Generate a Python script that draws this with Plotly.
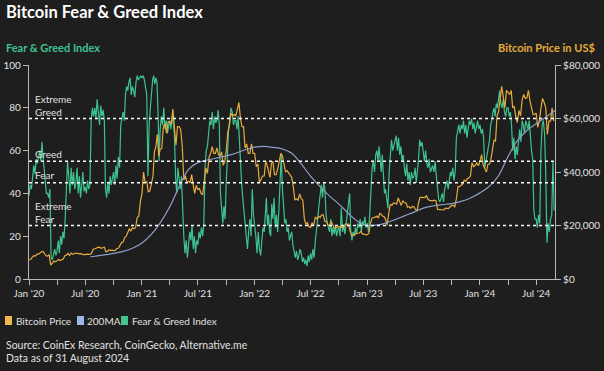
import calendar
import pandas as pd
import plotly.graph_objects as go

# ---------------- DATA ----------------
# Fear & Greed Index, 8 readings per month, Jan 2020 .. Aug 2024
fg_2020 = [39, 44, 42, 50, 53, 49, 56, 54,
           58, 60, 55, 64, 57, 52, 46, 40,
           40, 38, 42, 10, 9, 12, 14, 11,
           13, 18, 12, 20, 16, 22, 19, 28,
           41, 55, 48, 40, 52, 44, 50, 42,
           45, 52, 40, 48, 38, 44, 50, 41,
           43, 40, 46, 42, 44, 74, 80, 76,
           80, 75, 84, 78, 72, 81, 76, 79,
           74, 42, 38, 45, 40, 48, 44, 47,
           50, 44, 53, 47, 57, 52, 72, 75,
           78, 74, 86, 90, 88, 92, 94, 86,
           90, 88, 85, 92, 95, 93, 94, 95]
fg_2021 = [94, 95, 93, 90, 86, 48, 72, 80,
           88, 93, 95, 91, 94, 92, 78, 55,
           70, 76, 72, 80, 70, 74, 68, 72,
           74, 70, 76, 73, 68, 48, 40, 52,
           45, 42, 48, 30, 20, 12, 18, 10,
           15, 22, 18, 25, 14, 20, 12, 18,
           16, 22, 19, 24, 20, 26, 52, 60,
           62, 70, 74, 72, 78, 70, 76, 73,
           74, 79, 72, 40, 30, 26, 34, 28,
           45, 58, 70, 75, 80, 78, 72, 74,
           74, 70, 76, 66, 52, 45, 38, 32,
           25, 18, 14, 22, 28, 20, 42, 30]
fg_2022 = [26, 20, 12, 22, 14, 11, 18, 24,
           22, 28, 38, 25, 30, 22, 20, 35,
           28, 38, 24, 30, 22, 32, 48, 58,
           42, 32, 26, 28, 22, 24, 18, 20,
           22, 16, 12, 10, 13, 9, 11, 14,
           12, 8, 10, 7, 9, 6, 11, 8,
           12, 9, 14, 10, 18, 22, 28, 34,
           40, 44, 38, 45, 42, 30, 26, 24,
           22, 28, 20, 24, 21, 25, 20, 23,
           24, 20, 33, 22, 25, 21, 26, 30,
           34, 40, 22, 18, 22, 20, 24, 21,
           26, 24, 28, 22, 27, 25, 29, 24]
fg_2023 = [26, 22, 30, 45, 52, 55, 50, 58,
           60, 55, 62, 56, 50, 58, 45, 40,
           42, 36, 33, 50, 58, 65, 60, 62,
           64, 67, 60, 66, 58, 62, 55, 58,
           52, 48, 54, 46, 50, 44, 50, 47,
           48, 52, 45, 50, 56, 65, 62, 64,
           58, 55, 60, 54, 52, 56, 50, 52,
           53, 50, 55, 48, 40, 37, 36, 38,
           40, 36, 42, 44, 46, 42, 46, 50,
           48, 52, 46, 50, 66, 70, 72, 68,
           72, 70, 74, 68, 72, 66, 70, 74,
           72, 75, 70, 73, 68, 72, 74, 70]
fg_2024 = [72, 68, 70, 66, 52, 55, 58, 62,
           65, 72, 74, 78, 80, 76, 82, 80,
           84, 88, 82, 80, 84, 78, 76, 80,
           80, 76, 78, 72, 60, 66, 56, 62,
           58, 66, 70, 64, 74, 72, 68, 74,
           72, 70, 74, 66, 60, 56, 32, 28,
           28, 24, 30, 26, 60, 72, 74, 68,
           50, 17, 26, 22, 28, 30, 55, 32]

# Bitcoin price (US$ thousands), 6 readings per month
btc_2020 = [7.2, 7.3, 8.1, 8.7, 8.6, 9.3,
            9.3, 9.8, 10.2, 10.3, 9.7, 8.7,
            8.6, 9.1, 5.2, 6.2, 6.7, 6.4,
            6.8, 7.3, 6.9, 7.1, 7.5, 8.7,
            8.9, 9.6, 8.8, 9.7, 9.2, 9.5,
            9.7, 9.6, 9.4, 9.5, 9.2, 9.1,
            9.1, 9.3, 9.2, 9.2, 9.6, 11.1,
            11.3, 11.7, 11.8, 11.9, 11.5, 11.7,
            11.9, 10.2, 10.3, 10.9, 10.6, 10.8,
            10.6, 10.7, 11.4, 11.5, 12.9, 13.6,
            13.8, 15.5, 16.0, 17.8, 18.7, 18.0,
            19.2, 18.8, 19.2, 23.0, 23.5, 28.9]
btc_2021 = [32.0, 40.0, 36.0, 36.5, 32.5, 33.0,
            35.5, 38.5, 47.5, 49.5, 54.0, 46.0,
            48.5, 48.8, 57.0, 58.0, 54.5, 58.8,
            58.8, 58.0, 63.5, 56.0, 50.0, 57.0,
            57.0, 56.0, 50.0, 37.0, 38.5, 36.0,
            36.5, 36.0, 39.0, 35.0, 32.0, 35.0,
            33.5, 33.8, 32.0, 31.5, 37.0, 41.5,
            39.5, 45.5, 47.0, 49.5, 47.0, 47.0,
            49.0, 46.5, 46.0, 47.5, 42.5, 43.8,
            48.0, 55.0, 57.5, 62.0, 61.0, 61.5,
            61.0, 64.0, 66.0, 60.0, 57.0, 57.0,
            49.0, 50.5, 47.0, 47.0, 50.5, 47.0]
btc_2022 = [47.0, 42.0, 43.0, 36.0, 37.0, 38.5,
            38.5, 44.0, 42.5, 40.0, 38.0, 43.2,
            44.0, 39.0, 39.0, 41.0, 44.5, 47.0,
            46.0, 42.5, 40.0, 40.5, 39.5, 38.5,
            38.0, 34.5, 29.5, 30.0, 29.5, 31.8,
            30.0, 29.5, 22.5, 20.5, 21.0, 19.5,
            19.3, 21.0, 20.0, 23.0, 22.5, 23.5,
            23.0, 24.0, 24.0, 21.5, 21.5, 20.0,
            20.0, 21.5, 20.0, 19.0, 19.0, 19.5,
            19.5, 19.5, 19.2, 19.2, 20.5, 20.5,
            20.5, 18.0, 16.5, 16.5, 16.5, 17.0,
            17.0, 17.2, 17.8, 16.8, 16.8, 16.5]
btc_2023 = [16.6, 17.1, 20.8, 22.8, 23.0, 23.1,
            23.5, 22.8, 24.5, 24.2, 23.5, 23.3,
            22.4, 20.1, 24.5, 28.0, 27.5, 28.4,
            28.3, 28.0, 30.3, 29.0, 27.5, 29.3,
            28.5, 28.5, 26.8, 27.0, 26.5, 27.1,
            27.0, 26.0, 25.5, 28.5, 30.5, 30.5,
            30.5, 30.4, 31.2, 29.8, 29.4, 29.2,
            29.2, 29.5, 29.3, 26.0, 26.0, 26.0,
            25.8, 25.8, 26.5, 26.5, 26.3, 27.0,
            27.5, 27.5, 27.0, 30.0, 34.5, 34.5,
            35.0, 35.5, 37.0, 36.5, 37.5, 37.8,
            38.5, 43.5, 42.0, 42.5, 43.5, 42.3]
btc_2024 = [44.0, 46.5, 42.6, 41.0, 40.0, 42.9,
            43.0, 45.0, 48.5, 52.0, 51.5, 61.0,
            62.5, 67.5, 72.0, 68.0, 64.0, 70.5,
            69.5, 69.0, 70.5, 64.0, 64.5, 60.5,
            58.5, 63.0, 61.0, 67.0, 69.0, 67.5,
            67.7, 70.5, 66.5, 64.5, 61.5, 61.5,
            62.0, 56.7, 59.0, 64.0, 67.5, 66.0,
            64.0, 54.0, 59.0, 59.0, 64.0, 59.0]

# 200-day moving average (US$ thousands)
ma_dates = ["2020-07-18", "2020-08-01", "2020-09-01", "2020-10-01", "2020-11-01", "2020-12-01",
            "2021-01-01", "2021-02-01", "2021-03-01", "2021-04-01", "2021-05-01", "2021-06-01",
            "2021-07-01", "2021-08-01", "2021-09-01", "2021-10-01", "2021-11-01", "2021-12-01",
            "2022-01-01", "2022-02-01", "2022-03-01", "2022-04-01", "2022-05-01", "2022-06-01",
            "2022-07-01", "2022-08-01", "2022-09-01", "2022-10-01", "2022-11-01", "2022-12-01",
            "2023-01-01", "2023-02-01", "2023-03-01", "2023-04-01", "2023-05-01", "2023-06-01",
            "2023-07-01", "2023-08-01", "2023-09-01", "2023-10-01", "2023-11-01", "2023-12-01",
            "2024-01-01", "2024-02-01", "2024-03-01", "2024-04-01", "2024-05-01", "2024-06-01",
            "2024-07-01", "2024-08-01", "2024-08-31"]
ma_values = [8.3, 8.5, 9.0, 9.6, 10.3, 11.5,
             13.5, 16.8, 21.0, 27.0, 34.5, 41.0,
             43.5, 44.5, 45.3, 46.0, 47.0, 48.3,
             49.3, 49.6, 49.2, 48.6, 47.0, 43.0,
             38.5, 34.5, 31.0, 28.0, 24.5, 21.5,
             20.0, 20.2, 20.9, 22.2, 23.6, 25.0,
             26.5, 27.3, 27.8, 28.2, 29.0, 30.3,
             32.2, 34.7, 38.6, 45.8, 51.7, 55.5,
             58.0, 60.5, 63.0]

zone_levels = [75, 55, 45, 25]
zone_labels = ["Extreme<br>Greed", "Greed", "Fear", "Extreme<br>Fear"]
zone_label_y = [81, 58.4, 48.6, 31.1]

left_ticks = [0, 20, 40, 60, 80, 100]
right_ticks = [0, 20000, 40000, 60000, 80000]
right_ticktext = ["$0", "$20,000", "$40,000", "$60,000", "$80,000"]

tick_dates = pd.date_range("2020-01-01", "2024-07-01", freq="QS")
tick_text = [(d.strftime("%b '%y") if d.month in (1, 7) else "") for d in tick_dates]

legend_names = ["Bitcoin Price", "200MA", "Fear & Greed Index"]

# ---------------- HELPERS ----------------
months = pd.date_range("2020-01-01", "2024-08-01", freq="MS")


def spread(values, per_month):
    xs = []
    for k in range(len(values)):
        m = months[k // per_month]
        i = k % per_month
        days = calendar.monthrange(m.year, m.month)[1]
        xs.append(m + pd.Timedelta(days=days * i / per_month))
    return xs


fg = fg_2020 + fg_2021 + fg_2022 + fg_2023 + fg_2024
btc = [v * 1000 for v in btc_2020 + btc_2021 + btc_2022 + btc_2023 + btc_2024]
ma = [v * 1000 for v in ma_values]

W, H = 604, 371
L, R, T, B = 29, 49, 65, 92
PW, PH = W - L - R, H - T - B


def px(xp):
    return (xp - L) / PW


def py(yp):
    return (H - B - yp) / PH


BG = "#1e1e1e"
GREEN = "#3ec28f"
GOLD = "#e5ab3c"
BLUE = "#8e9fc6"
AXIS = "#b8b8b8"
TXT = "#e0e0e0"
FONT = "Lato"

fig = go.Figure()
fig.add_trace(go.Scatter(x=spread(fg, 8), y=fg, mode="lines", name=legend_names[2],
                         line=dict(color=GREEN, width=1.2), yaxis="y", showlegend=False))
fig.add_trace(go.Scatter(x=spread(btc, 6), y=btc, mode="lines", name=legend_names[0],
                         line=dict(color=GOLD, width=1.2), yaxis="y2", showlegend=False))
fig.add_trace(go.Scatter(x=pd.to_datetime(ma_dates), y=ma, mode="lines", name=legend_names[1],
                         line=dict(color=BLUE, width=1.2, shape="spline"), yaxis="y2",
                         showlegend=False))

shapes = []
for v in zone_levels:
    shapes.append(dict(type="line", xref="paper", yref="y", x0=0, x1=1, y0=v, y1=v,
                       line=dict(color="white", width=1.5, dash="dot"), layer="above"))

annotations = []
for lab, yv in zip(zone_labels, zone_label_y):
    annotations.append(dict(text=lab, xref="paper", yref="y", x=px(33), y=yv,
                            xanchor="left", yanchor="middle", align="left", showarrow=False,
                            font=dict(family=FONT, size=10, color=TXT)))

annotations += [
    dict(text="<b>Bitcoin Fear & Greed Index</b>", xref="paper", yref="paper",
         x=px(4), y=py(12), xanchor="left", yanchor="middle", showarrow=False,
         font=dict(family=FONT, size=16.5, color="white")),
    dict(text="<b>Fear & Greed Index</b>", xref="paper", yref="paper",
         x=px(4), y=py(47), xanchor="left", yanchor="middle", showarrow=False,
         font=dict(family=FONT, size=11, color=GREEN)),
    dict(text="<b>Bitcoin Price in US$</b>", xref="paper", yref="paper",
         x=px(597), y=py(47), xanchor="right", yanchor="middle", showarrow=False,
         font=dict(family=FONT, size=11, color=GOLD)),
    dict(text="Source: CoinEx Research, CoinGecko, Alternative.me", xref="paper", yref="paper",
         x=px(4), y=py(345), xanchor="left", yanchor="middle", showarrow=False,
         font=dict(family=FONT, size=10.5, color=TXT)),
    dict(text="Data as of 31 August 2024", xref="paper", yref="paper",
         x=px(4), y=py(358), xanchor="left", yanchor="middle", showarrow=False,
         font=dict(family=FONT, size=10.5, color=TXT)),
]

# custom legend
swatches = [(5, "#f0b84a"), (77, "#9db6e6"), (121, "#45c490")]
text_x = [14, 85, 130]
for (sx, col), tx, name in zip(swatches, text_x, legend_names):
    shapes.append(dict(type="rect", xref="paper", yref="paper",
                       x0=px(sx), x1=px(sx + 7), y0=py(325), y1=py(316),
                       fillcolor=col, line=dict(width=0)))
    annotations.append(dict(text=name, xref="paper", yref="paper", x=px(tx), y=py(320.5),
                            xanchor="left", yanchor="middle", showarrow=False,
                            font=dict(family=FONT, size=10, color=TXT)))

axis_common = dict(showgrid=False, zeroline=False, showline=True, linecolor=AXIS, linewidth=1.2,
                   ticks="outside", ticklen=5, tickcolor=AXIS, tickwidth=1.2, automargin=False,
                   tickfont=dict(family=FONT, size=10, color=TXT))

fig.update_layout(
    template="none",
    width=W, height=H,
    margin=dict(l=L, r=R, t=T, b=B, pad=0, autoexpand=False),
    paper_bgcolor=BG, plot_bgcolor=BG,
    showlegend=False,
    xaxis=dict(type="date", range=["2020-01-01", "2024-08-31"], tickvals=tick_dates,
               ticktext=tick_text, **axis_common),
    yaxis=dict(range=[0, 100], tickvals=left_ticks, **axis_common),
    yaxis2=dict(range=[0, 80000], overlaying="y", side="right", tickvals=right_ticks,
                ticktext=right_ticktext, **axis_common),
    shapes=shapes,
    annotations=annotations,
)

fig.write_html("out.html", config={"displayModeBar": False},
               post_script="document.body.style.margin='0';")
